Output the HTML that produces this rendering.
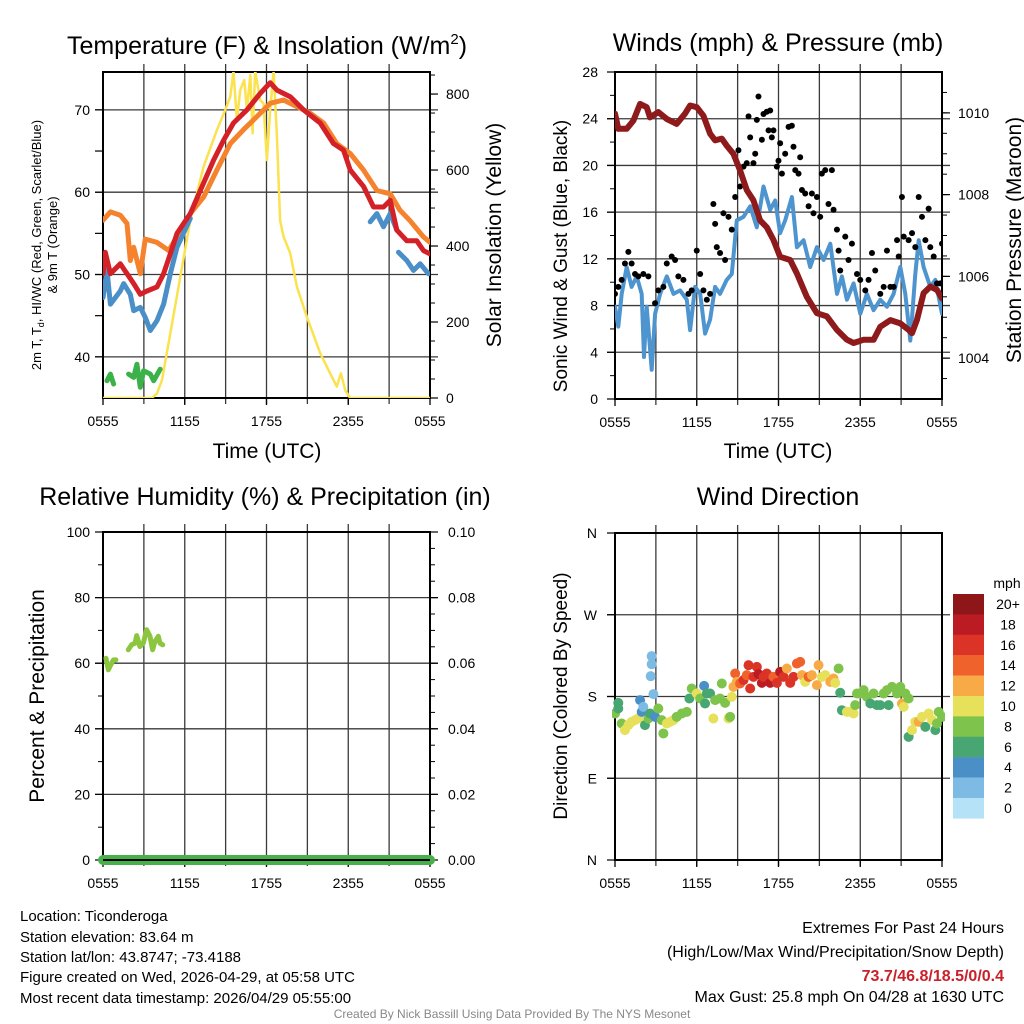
<!DOCTYPE html>
<html><head><meta charset="utf-8"><style>
html,body{margin:0;padding:0;background:#fff;}
svg{display:block;font-family:"Liberation Sans",Arial,sans-serif;}
</style></head><body>
<svg id="root" width="1024" height="1024" viewBox="0 0 1024 1024" xmlns="http://www.w3.org/2000/svg">
<defs>
<clipPath id="c1"><rect x="103" y="72" width="327" height="326"/></clipPath>
<clipPath id="c2"><rect x="615" y="72" width="327" height="327"/></clipPath>
<clipPath id="c3"><rect x="90" y="520" width="355" height="355"/></clipPath>
<clipPath id="c4"><rect x="612" y="530" width="333" height="333"/></clipPath>
</defs>
<g id="p1"></g>
<g id="p2"></g>
<g id="p3"></g>
<g id="p4"></g>

<text x="267" y="54" font-size="25" text-anchor="middle">Temperature (F) &amp; Insolation (W/m<tspan dy="-10" font-size="15">2</tspan><tspan dy="10">)</tspan></text>
<text x="778" y="51" font-size="25" text-anchor="middle">Winds (mph) &amp; Pressure (mb)</text>
<text x="265" y="505" font-size="25" text-anchor="middle">Relative Humidity (%) &amp; Precipitation (in)</text>
<text x="778" y="505" font-size="25" text-anchor="middle">Wind Direction</text>

<text x="267" y="458" font-size="21" text-anchor="middle">Time (UTC)</text>
<text x="778" y="458" font-size="21" text-anchor="middle">Time (UTC)</text>

<text transform="translate(41,245) rotate(-90)" font-size="13" text-anchor="middle">2m T, T<tspan font-size="9" dy="3">d</tspan><tspan dy="-3">, HI/WC (Red, Green, Scarlet/Blue)</tspan></text>
<text transform="translate(57,245) rotate(-90)" font-size="13" text-anchor="middle">&amp; 9m T (Orange)</text>
<text transform="translate(501,235) rotate(-90)" font-size="21" text-anchor="middle">Solar Insolation (Yellow)</text>
<text transform="translate(567,256) rotate(-90)" font-size="19" text-anchor="middle">Sonic Wind &amp; Gust (Blue, Black)</text>
<text transform="translate(1021,240) rotate(-90)" font-size="21" text-anchor="middle">Station Pressure (Maroon)</text>
<text transform="translate(44,696) rotate(-90)" font-size="21" text-anchor="middle">Percent &amp; Precipitation</text>
<text transform="translate(567,696) rotate(-90)" font-size="19" text-anchor="middle">Direction (Colored By Speed)</text>

<g font-size="15">
<text x="20" y="921">Location: Ticonderoga</text>
<text x="20" y="942">Station elevation: 83.64 m</text>
<text x="20" y="962">Station lat/lon: 43.8747; -73.4188</text>
<text x="20" y="982">Figure created on Wed, 2026-04-29, at 05:58 UTC</text>
<text x="20" y="1003">Most recent data timestamp: 2026/04/29 05:55:00</text>
</g>
<g font-size="16" text-anchor="end">
<text x="1004" y="933">Extremes For Past 24 Hours</text>
<text x="1004" y="957">(High/Low/Max Wind/Precipitation/Snow Depth)</text>
<text x="1004" y="981" fill="#c9202a" font-weight="bold">73.7/46.8/18.5/0/0.4</text>
<text x="1004" y="1002">Max Gust: 25.8 mph On 04/28 at 1630 UTC</text>
</g>
<text x="512" y="1018" font-size="12" fill="#888" text-anchor="middle">Created By Nick Bassill Using Data Provided By The NYS Mesonet</text>
</svg>
<script>
// ---- Temperature panel data (hours after 0555 UTC) ----
const redH=[0,.17,.54,1.27,1.76,2.25,2.74,3.23,3.96,4.45,4.94,5.43,6.41,7.14,8.12,8.85,9.58,10.56,11.54,12.27,12.76,13.74,14.72,15.94,16.92,17.65,18.14,19.12,19.85,20.59,21.08,21.56,22.3,23.03,23.52,24];
const redT=[50.1,52.7,50.1,51.3,50.1,48.9,47.6,48.0,48.5,50.1,52.5,55.0,57.4,60.2,63.9,66.3,68.4,70.0,72.0,73.3,72.4,71.6,70.0,68.4,65.9,65.1,62.7,60.7,58.2,58.2,59.0,55.4,54.1,54.1,52.9,52.5];
const orangeH=[0,.54,1.27,1.76,2.0,2.25,2.74,3.1,3.96,4.82,5.43,6.41,7.38,8.36,9.34,10.32,11.3,12.27,13.25,14.23,15.2,16.19,17.16,18.14,19.12,20.1,21.08,21.8,22.5,23.5,24];
const orangeT=[56.6,57.6,57.2,56.2,51.7,53.3,50.1,54.3,53.9,52.9,54.6,57.4,59.4,62.7,65.9,67.6,69.2,70.8,71.2,70.4,69.6,68.4,65.9,64.7,62.7,60.2,59.8,57.8,56.6,54.6,53.9];
const blueH=[0,.29,.54,1.27,1.52,2.0,2.25,2.74,3.1,3.47,3.96,4.45,4.94,5.43,6.41,null,19.61,20.1,20.59,21.08,21.56,null,21.69,22.3,22.79,23.28,23.88];
const blueT=[47.2,50.5,46.4,48.0,48.9,47.6,45.6,46.0,44.8,43.2,44.4,46.4,50.1,53.3,56.8,null,56.4,57.4,55.8,57.4,55.4,null,52.7,51.7,50.5,51.3,50.1];
const greenH=[.29,.54,.78,null,1.88,2.25,2.49,2.74,2.98,3.47,3.72,4.2];
const greenT=[37.1,37.9,36.7,null,37.9,37.5,39.1,36.3,38.3,37.9,37.1,38.5];
const solarH=[0,3.59,3.96,4.33,4.94,5.67,6.41,7.38,8.36,8.97,9.34,9.58,9.83,10.07,10.37,10.56,10.81,10.98,11.17,11.54,11.78,12.03,12.27,12.52,12.76,13.0,13.25,13.74,14.23,14.96,15.94,16.67,17.16,17.46,17.78,18.14,24];
const solarW=[0,0,12,47,170,319,468,609,705,758,793,860,730,810,837,758,850,697,860,784,775,626,758,860,690,468,425,381,293,214,118,65,30,65,20,0,0];
const tempTicks=[40,50,60,70];
const solarTicks=[0,200,400,600,800];
const timeLabels=["0555","1155","1755","2355","0555"];
// ---- Winds panel data ----
const presH=[0,.24,.86,1.35,1.84,2.33,2.57,3.18,3.8,4.53,5.14,5.51,6.0,6.49,6.98,7.35,7.84,8.2,8.69,9.18,9.67,10.16,10.65,11.14,11.63,12.12,12.86,13.35,14.08,14.82,15.55,16.29,17.02,17.51,18.25,18.98,19.47,20.21,20.94,21.55,21.8,22.16,22.65,23.14,23.63,24];
const presP=[1009.98,1009.61,1009.61,1009.81,1010.22,1010.14,1009.89,1010.02,1009.85,1009.73,1009.98,1010.18,1010.14,1009.93,1009.49,1009.33,1009.37,1009.2,1009.0,1008.59,1008.11,1007.86,1007.37,1007.2,1006.89,1006.48,1006.4,1006.07,1005.5,1005.1,1005.02,1004.69,1004.45,1004.37,1004.45,1004.45,1004.77,1004.93,1004.85,1004.69,1004.61,1004.93,1005.59,1005.75,1005.67,1005.46];
const windH=[0,.24,.49,.86,1.22,1.59,1.96,2.13,2.33,2.69,2.94,3.31,3.8,4.29,4.78,5.27,5.51,5.88,6.25,6.61,6.98,7.35,7.71,8.2,8.57,8.94,9.43,9.92,10.41,10.9,11.39,11.76,12.12,12.49,12.98,13.35,13.84,14.33,14.82,15.31,15.8,16.29,16.65,17.02,17.51,18.0,18.49,18.98,19.47,19.96,20.45,20.94,21.31,21.67,22.04,22.29,22.65,23.14,23.51,24];
const windV=[7.9,6.2,9.0,11.3,9.6,10.5,9.0,3.6,7.9,2.5,7.3,9.0,10.5,9.0,9.3,8.5,5.9,9.6,9.0,5.6,6.8,9.6,9.0,10.2,10.7,15.3,15.6,16.5,14.7,18.2,16.2,17.0,14.2,15.3,17.3,13.0,13.6,11.3,13.0,11.9,13.3,9.0,10.5,8.5,9.9,7.3,9.0,7.6,8.5,7.9,9.0,11.3,9.0,5.0,10.7,13.6,11.3,9.6,10.2,7.3];
const gustH=[0,.24,.49,.73,.98,1.22,1.47,1.71,2.08,2.45,2.94,3.18,3.55,3.8,4.16,4.41,4.65,5.02,5.39,5.63,6.0,6.25,6.49,6.74,6.98,7.22,7.35,7.47,7.71,7.96,8.08,8.33,8.57,8.82,9.06,9.18,9.43,9.67,9.8,9.92,10.16,10.29,10.41,10.53,10.78,10.9,11.14,11.27,11.39,11.51,11.63,11.88,12.0,12.12,12.25,12.49,12.74,12.98,13.1,13.23,13.47,13.59,13.72,13.96,14.21,14.45,14.57,14.82,15.06,15.18,15.43,15.67,15.92,16.04,16.29,16.41,16.53,16.9,17.14,17.39,17.76,18.0,18.37,18.61,18.86,19.1,19.47,19.72,19.96,20.21,20.45,20.7,20.82,21.06,21.19,21.55,21.8,22.04,22.29,22.53,22.78,23.02,23.14,23.39,23.63,23.88,24.0];
const gustV=[9.0,9.6,10.2,11.6,12.6,11.6,10.7,10.5,10.7,10.5,8.2,9.3,9.6,11.6,12.2,11.9,10.5,10.2,9.0,9.3,12.7,10.7,9.3,8.5,9.0,16.7,15.0,13.0,12.5,15.9,11.9,15.6,14.5,17.3,21.3,18.2,19.9,20.2,24.2,22.4,20.2,21.0,23.9,25.9,22.2,24.4,24.6,23.0,24.7,22.4,23.0,19.9,20.4,21.9,19.3,21.0,23.3,23.4,21.6,19.6,19.3,20.7,17.9,17.6,16.5,17.6,15.9,17.3,15.6,19.3,19.6,16.7,19.6,16.2,14.5,12.7,11.0,13.9,11.9,13.3,10.7,10.2,9.3,10.2,12.5,11.0,9.0,9.6,12.7,9.6,9.6,13.6,12.2,17.3,13.9,13.6,14.2,13.0,17.3,15.6,13.6,16.3,13.0,12.2,9.9,9.9,13.3];
const windTicks=[0,4,8,12,16,20,24,28];
const presTicks=[1004,1006,1008,1010];
// ---- Humidity panel data ----
const rhH=[.22,.39,.51,.76,.95,null,1.86,2.1,2.35,2.47,2.71,2.96,3.2,3.45,3.64,3.81,4.06,4.18,4.38];
const rhV=[61.5,58.0,59.0,61.0,61.0,null,64.1,65.6,66.1,68.4,65.1,66.1,70.2,68.2,64.1,66.6,68.2,66.1,65.6];
const precipH=[0,24];
const precipV=[0,0];
const rhTicks=[0,20,40,60,80,100];
const precipTicks=["0.00","0.02","0.04","0.06","0.08","0.10"];
// ---- Wind direction data ----
const dirH=[0,.24,.24,.49,.73,.98,1.22,1.47,1.71,1.84,1.96,2.08,2.2,2.45,2.57,2.69,2.69,2.62,2.82,2.94,3.18,3.43,3.55,3.8,4.04,4.29,4.53,4.9,5.27,5.46,5.63,6.0,6.25,6.54,6.74,6.98,6.61,7.22,7.35,7.71,7.84,8.08,8.33,8.45,8.57,8.69,8.82,8.94,9.18,9.43,9.67,9.8,9.92,10.16,10.41,10.53,10.78,10.9,11.14,11.39,11.63,11.88,12.12,12.37,12.61,12.86,13.1,13.35,13.59,13.72,13.96,14.21,14.45,14.82,14.94,15.18,15.43,15.8,16.04,16.16,16.41,16.53,16.65,17.02,17.27,17.51,17.63,17.76,18.0,18.25,18.49,18.74,18.98,19.23,19.47,19.72,19.96,20.08,20.33,20.7,20.94,21.06,21.19,21.31,21.55,21.55,21.8,22.04,22.29,22.53,22.78,23.02,23.27,23.51,23.63,23.76,24.0];
const dirD=[161.3,173,166.8,150.3,143,148.5,152.1,154,155.8,176,163.1,168.6,148.5,155.8,161.3,224.4,215.6,202.4,182.6,157.6,166.8,154,139.3,150.3,152.1,154,157.6,161.3,163.1,177.8,188.8,183.3,177.8,191.7,183.3,183.3,172.3,155.8,176,177.8,194.3,173,155.8,157.6,179.6,190.6,205.3,196.1,194.3,198,203.5,214.5,188.8,201.6,212.6,204.6,195,201.6,205.3,195,201.6,195,207.1,201.6,210.8,195,201.6,216.3,218.1,203.5,196.1,201.6,203.5,192.5,214.5,201.6,203.5,196.1,199.8,195,210.8,184.1,164.9,163.1,163.1,161.3,170.5,183.3,183.3,187,179.6,172.3,183.3,170.5,170.5,183.3,187,170.5,190.6,183.3,190.6,172.3,168.6,183.3,177.8,135.6,143,152.1,152.1,157.6,146.6,161.3,154,143,150.3,163.1,157.6];
const dirS=[8,6,6,8,10,10,10,10,10,4,4,2,6,8,6,2,2,2,2,4,8,8,8,10,10,10,8,8,8,6,8,10,8,4,6,6,6,10,8,8,8,8,10,8,10,12,14,12,14,16,14,16,16,16,16,18,18,16,16,18,14,16,18,16,12,16,16,14,14,12,10,14,12,12,12,10,10,12,12,10,8,6,6,10,10,10,8,8,8,8,8,6,8,6,6,8,8,6,8,8,8,12,10,8,8,6,10,10,12,10,6,10,10,6,8,8,8];
const dirTickLabels=["N","E","S","W","N"];
const speedLabels=["20+","18","16","14","12","10","8","6","4","2","0"];
const speedColors=["#b5e2f7","#7ebbe4","#4a8fc6","#47a672","#7ec34b","#e6e05a","#f7aa45","#f0622b","#dc3327","#bb1c23","#8e1518"];

const NS="http://www.w3.org/2000/svg";
function mk(parent,tag,attrs){const e=document.createElementNS(NS,tag);for(const k in attrs)e.setAttribute(k,attrs[k]);parent.appendChild(e);return e;}
function lin(d0,d1,r0,r1){return v=>r0+(v-d0)*(r1-r0)/(d1-d0);}
function pathD(hs,vs,sx,sy){let d="",pen=false;for(let i=0;i<hs.length;i++){if(hs[i]===null||vs[i]===null){pen=false;continue;}d+=(pen?"L":"M")+sx(hs[i]).toFixed(1)+","+sy(vs[i]).toFixed(1);pen=true;}return d;}
function frame(g,L,T,R,B,hGrid){
  const sx=lin(0,24,L,R);
  for(let h=3;h<24;h+=3){const gl=mk(g,"line",{x1:sx(h),x2:sx(h),y1:T-8,y2:B+6,stroke:"#3a3a3a","stroke-width":1.3});
  
  }
  hGrid.forEach(y=>{const gl=mk(g,"line",{x1:L-8,x2:R+8,y1:y,y2:y,stroke:"#3a3a3a","stroke-width":1.3});
  
  });
  const bx=mk(g,"rect",{x:L,y:T,width:R-L,height:B-T,fill:"none",stroke:"#000","stroke-width":2});
  
  
  timeLabels.forEach((t,i)=>{const x=sx(i*6);
    mk(g,"line",{x1:x,x2:x,y1:B,y2:B+7,stroke:"#000","stroke-width":1.3});
    const tx=mk(g,"text",{x:x,y:B+28,"font-size":14,"text-anchor":"middle"});tx.textContent=t;
    
    });
  return sx;
}
function tickLabel(g,x,y,txt,anchor,name){const t=mk(g,"text",{x:x,y:y+5,"font-size":14,"text-anchor":anchor});t.textContent=txt;
  
  }
function addLine(g,hs,vs,sx,sy,color,w,clip,name){const p=mk(g,"path",{d:pathD(hs,vs,sx,sy),fill:"none",stroke:color,"stroke-width":w,"stroke-linejoin":"round","stroke-linecap":"round","clip-path":"url(#"+clip+")"});
  
  return p;}

// Panel 1
(function(){
  const g=document.getElementById("p1");
  const yT=lin(35,74.6,398,72), yS=lin(0,858,398,72);
  const sx=frame(g,103,72,430,398,tempTicks.map(yT));
  tempTicks.forEach(v=>{tickLabel(g,90,yT(v),String(v),"end","temp-y-tick-label");});
  for(let v=40;v<=70;v+=5)mk(g,"line",{x1:95,x2:103,y1:yT(v),y2:yT(v),stroke:"#000","stroke-width":1.2});
  solarTicks.forEach(v=>{tickLabel(g,446,yS(v),String(v),"start","solar-y-tick-label");mk(g,"line",{x1:430,x2:438,y1:yS(v),y2:yS(v),stroke:"#000","stroke-width":1.2});});
  for(let v=50;v<858;v+=50)mk(g,"line",{x1:430,x2:435,y1:yS(v),y2:yS(v),stroke:"#000","stroke-width":1});
  addLine(g,solarH,solarW,sx,yS,"#fbe24f",2.5,"c1","solar-line");
  addLine(g,orangeH,orangeT,sx,yT,"#f5822c",5,"c1","9m-temp-line");
  addLine(g,blueH,blueT,sx,yT,"#4b8fc9",5,"c1","wind-chill-line");
  addLine(g,redH,redT,sx,yT,"#d42127",5,"c1","2m-temp-line");
  addLine(g,greenH,greenT,sx,yT,"#3cb14a",5,"c1","dewpoint-line");
})();
// Panel 2
(function(){
  const g=document.getElementById("p2");
  const yW=lin(0,28,399,72), yP=lin(1003,1011,399,72);
  const sx=frame(g,615,72,942,399,windTicks.slice(1,7).map(yW));
  windTicks.forEach(v=>{tickLabel(g,598,yW(v),String(v),"end","wind-y-tick-label");mk(g,"line",{x1:607,x2:615,y1:yW(v),y2:yW(v),stroke:"#000","stroke-width":1.2});});
  for(let v=2;v<28;v+=4)mk(g,"line",{x1:610,x2:615,y1:yW(v),y2:yW(v),stroke:"#000","stroke-width":1});
  presTicks.forEach(v=>{tickLabel(g,958,yP(v),String(v),"start","pressure-y-tick-label");mk(g,"line",{x1:942,x2:950,y1:yP(v),y2:yP(v),stroke:"#000","stroke-width":1.2});});
  for(let v=1003.5;v<1011;v+=0.5)mk(g,"line",{x1:942,x2:947,y1:yP(v),y2:yP(v),stroke:"#000","stroke-width":1});
  addLine(g,windH,windV,sx,yW,"#4e94cf",4,"c2","sonic-wind-line");
  const gg=mk(g,"g",{"clip-path":"url(#c2)"});
  
  
  gustH.forEach((h,i)=>{const c=mk(gg,"circle",{cx:sx(h),cy:yW(gustV[i]),r:3,fill:"#000"});
    
    });
  addLine(g,presH,presP,sx,yP,"#8e1a1c",6,"c2","pressure-line");
})();
// Panel 3
(function(){
  const g=document.getElementById("p3");
  const yR=lin(0,100,860,532);
  const sx=frame(g,103,532,430,860,rhTicks.slice(1,5).map(yR));
  rhTicks.forEach((v,i)=>{tickLabel(g,90,yR(v),String(v),"end","humidity-y-tick-label");mk(g,"line",{x1:95,x2:103,y1:yR(v),y2:yR(v),stroke:"#000","stroke-width":1.2});
    tickLabel(g,448,yR(v),precipTicks[i],"start","precip-y-tick-label");mk(g,"line",{x1:430,x2:438,y1:yR(v),y2:yR(v),stroke:"#000","stroke-width":1.2});});
  for(let v=10;v<100;v+=20){mk(g,"line",{x1:98,x2:103,y1:yR(v),y2:yR(v),stroke:"#000","stroke-width":1});}
  for(let v=5;v<100;v+=5){mk(g,"line",{x1:430,x2:435,y1:yR(v),y2:yR(v),stroke:"#000","stroke-width":1});}
  addLine(g,rhH,rhV,sx,yR,"#8cc63f",5,"c3","humidity-line");
  addLine(g,precipH,precipV.map(v=>v*1000),sx,yR,"#46b04a",10,"c3","precip-line");
  mk(g,"line",{x1:103,x2:430,y1:860,y2:860,stroke:"#000","stroke-width":2});
})();
// Panel 4
(function(){
  const g=document.getElementById("p4");
  const yD=lin(0,360,860,533);
  const sx=frame(g,615,533,942,860,[90,180,270].map(yD));
  dirTickLabels.forEach((t,i)=>{tickLabel(g,597,yD(i*90),t,"end","direction-y-tick-label");mk(g,"line",{x1:607,x2:615,y1:yD(i*90),y2:yD(i*90),stroke:"#000","stroke-width":1.2});});
  const gg=mk(g,"g",{"clip-path":"url(#c4)"});
  
  
  dirH.forEach((h,i)=>{const b=Math.min(10,Math.floor(dirS[i]/2));
    const c=mk(gg,"circle",{cx:sx(h),cy:yD(dirD[i]),r:5,fill:speedColors[b]});
    
    });
  const lg=mk(g,"g",{});
  
  
  const t=mk(lg,"text",{x:1007,y:588,"font-size":14,"text-anchor":"middle"});t.textContent="mph";
  speedLabels.forEach((s,i)=>{const y=594+i*20.4;
    const r=mk(lg,"rect",{x:953,y:y,width:31,height:20.6,fill:speedColors[10-i]});
    
    
    const tx=mk(lg,"text",{x:1008,y:y+15,"font-size":14,"text-anchor":"middle"});tx.textContent=s;
    
    });
})();
</script>
</body></html>
